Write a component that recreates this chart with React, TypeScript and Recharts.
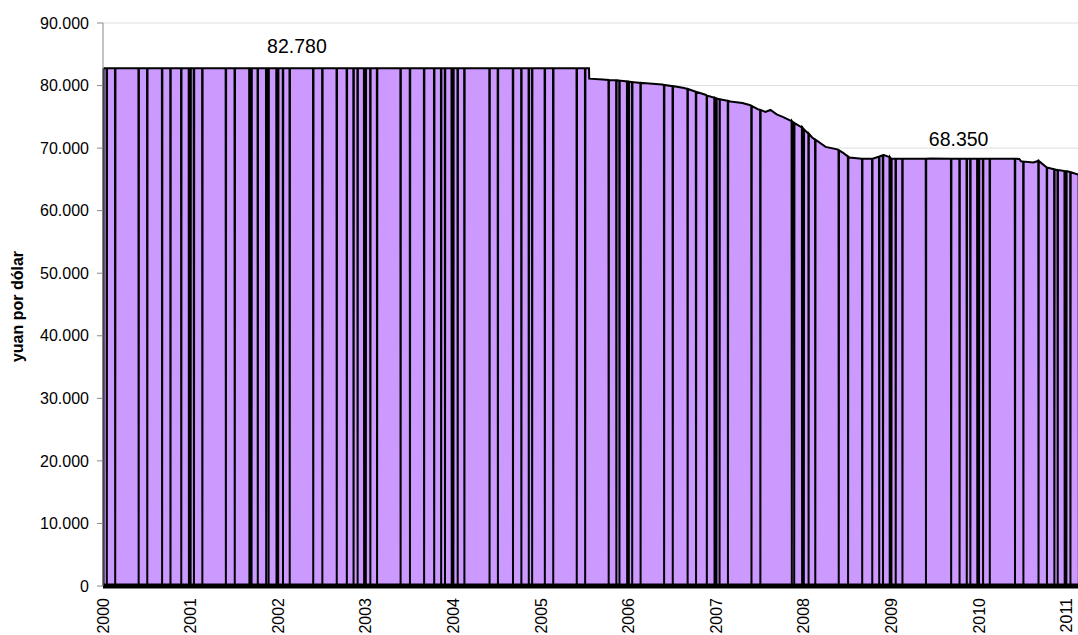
import { AreaChart, Area, XAxis, YAxis, CartesianGrid, ReferenceLine, ReferenceDot } from 'recharts';

// yuan per dollar (x10)
const PEG = 82.78;

const rateDates = [
  '2000-01-03', '2005-07-20', '2005-07-21', '2005-09-15', '2005-11-15', '2006-01-15',
  '2006-03-15', '2006-05-20', '2006-07-15', '2006-08-20', '2006-10-10', '2006-11-20',
  '2007-01-15', '2007-03-01', '2007-04-20', '2007-05-20', '2007-06-25', '2007-07-25',
  '2007-08-15', '2007-09-10', '2007-10-05', '2007-11-15', '2007-12-28', '2008-02-05',
  '2008-04-01', '2008-05-20', '2008-06-15', '2008-07-10', '2008-08-30', '2008-10-15',
  '2008-12-01', '2009-01-10', '2009-06-15', '2010-06-18', '2010-06-25', '2010-08-15',
  '2010-09-05', '2010-10-10', '2010-11-20', '2011-01-05', '2011-02-25',
];
const rateValues = [
  PEG, PEG, 81.1, 80.95, 80.85, 80.55,
  80.35, 80.15, 79.85, 79.6, 79.0, 78.5,
  77.8, 77.45, 77.2, 76.9, 76.2, 75.8,
  76.1, 75.4, 75.0, 74.2, 73.2, 71.7,
  70.2, 69.8, 69.2, 68.5, 68.3, 68.3,
  68.9, 68.3, 68.33, 68.27, 67.9, 67.7,
  67.95, 66.9, 66.5, 66.3, 65.7,
];

// days without a quote (drawn as 0) and the rate level around them
const holidayDates = [
  '2000-01-17', '2000-02-21', '2000-05-29', '2000-07-04', '2000-09-04', '2000-10-09', '2000-11-23', '2000-12-25',
  '2001-01-01', '2001-01-15', '2001-02-19', '2001-05-28', '2001-07-04', '2001-09-03', '2001-09-11', '2001-09-12',
  '2001-10-08', '2001-11-12', '2001-11-22', '2001-12-25',
  '2002-01-01', '2002-01-21', '2002-02-18', '2002-05-27', '2002-07-04', '2002-09-02', '2002-10-14', '2002-11-11',
  '2002-11-28', '2002-12-25',
  '2003-01-01', '2003-01-20', '2003-02-17', '2003-05-26', '2003-07-04', '2003-09-01', '2003-10-13', '2003-11-11',
  '2003-11-27', '2003-12-25',
  '2004-01-01', '2004-01-19', '2004-02-16', '2004-05-31', '2004-07-05', '2004-09-06', '2004-10-11', '2004-11-11',
  '2004-11-25',
  '2005-01-17', '2005-02-21', '2005-05-30', '2005-07-04',
  '2005-10-10', '2005-11-11', '2005-11-24', '2005-12-26',
  '2006-01-02', '2006-01-16', '2006-02-20', '2006-05-29', '2006-07-04', '2006-09-04', '2006-10-09', '2006-11-23',
  '2006-12-25',
  '2007-01-01', '2007-01-02', '2007-01-15', '2007-02-19', '2007-05-28', '2007-07-04', '2007-11-12', '2007-11-22',
  '2007-12-25',
  '2008-01-01', '2008-01-21', '2008-02-18', '2008-05-26', '2008-07-04', '2008-09-01', '2008-10-13', '2008-11-11',
  '2008-11-27', '2008-12-25',
  '2009-01-01', '2009-01-19', '2009-02-16', '2009-05-25', '2009-09-07', '2009-10-12', '2009-11-11', '2009-11-26',
  '2009-12-25',
  '2010-01-01', '2010-01-18', '2010-02-15', '2010-05-31', '2010-07-05', '2010-09-06', '2010-10-11', '2010-11-11',
  '2010-11-25', '2010-12-24', '2010-12-31',
  '2011-01-17', '2011-02-21',
];
const holidayLevels = [
  PEG, PEG, PEG, PEG, PEG, PEG, PEG, PEG,
  PEG, PEG, PEG, PEG, PEG, PEG, PEG, PEG,
  PEG, PEG, PEG, PEG,
  PEG, PEG, PEG, PEG, PEG, PEG, PEG, PEG,
  PEG, PEG,
  PEG, PEG, PEG, PEG, PEG, PEG, PEG, PEG,
  PEG, PEG,
  PEG, PEG, PEG, PEG, PEG, PEG, PEG, PEG,
  PEG,
  PEG, PEG, PEG, PEG,
  80.9, 80.85, 80.8, 80.65,
  80.62, 80.55, 80.42, 80.1, 79.9, 79.45, 79.0, 78.4,
  78.05,
  77.95, 77.95, 77.8, 77.55, 76.75, 76.1, 74.3, 74.0,
  73.3,
  73.0, 72.3, 71.35, 69.65, 68.65, 68.3, 68.3, 68.65,
  68.85, 68.55,
  68.3, 68.3, 68.3, 68.3, 68.3, 68.3, 68.3, 68.3,
  68.3,
  68.3, 68.3, 68.3, 68.3, 67.85, 67.95, 66.9, 66.6,
  66.5, 66.33, 66.3,
  66.15, 65.75,
];

const yearTicks = [2000, 2001, 2002, 2003, 2004, 2005, 2006, 2007, 2008, 2009, 2010, 2011];
const valueTicks = [0, 10, 20, 30, 40, 50, 60, 70, 80, 90];

const notes = [
  { date: '2002-03-20', value: PEG, text: '82.780', gap: 15 },
  { date: '2009-10-08', value: 68.35, text: '68.350', gap: 12 },
];

const FONT = '"Liberation Sans", Arial, sans-serif';
const DAY = 1 / 365;

function toYear(d: string) {
  const [y, m, day] = d.split('-').map(Number);
  const start = Date.UTC(y, 0, 1);
  const end = Date.UTC(y + 1, 0, 1);
  return y + (Date.UTC(y, m - 1, day) - start) / (end - start);
}

const points: { t: number; v: number }[] = [];
rateDates.forEach((d, i) => points.push({ t: toYear(d), v: rateValues[i] }));
holidayDates.forEach((d, i) => {
  const t = toYear(d);
  points.push({ t: t - DAY, v: holidayLevels[i] }, { t, v: 0 }, { t: t + DAY, v: holidayLevels[i] });
});
points.sort((a, b) => a.t - b.t);

const firstT = points[0].t;
const firstV = points[0].v;

const YearTick = (props: any) => {
  const { x, y, payload } = props;
  return (
    <text x={x} y={y} transform={`rotate(-90, ${x}, ${y})`} textAnchor="end" dy="0.35em"
      fontSize={16} fontFamily={FONT} fill="#000">
      {payload.value}
    </text>
  );
};

const YLabel = (props: any) => {
  const vb = props.viewBox;
  const cx = vb.x + 17;
  const cy = vb.y + vb.height / 2 + 2;
  return (
    <text x={cx} y={cy} transform={`rotate(-90, ${cx}, ${cy})`} textAnchor="middle" dy="0.35em"
      fontSize={16} fontWeight="bold" fontFamily={FONT} fill="#000">
      yuan por dólar
    </text>
  );
};

export default function App() {
  return (
    <div style={{ position: 'absolute', left: 0, top: 0, background: '#fff' }}>
      <AreaChart width={1078} height={635} data={points} margin={{ top: 23, right: 0, left: 0, bottom: 0 }}>
        <CartesianGrid vertical={false} stroke="#dedede" />
        <XAxis
          dataKey="t"
          type="number"
          domain={[2000, 2011.13]}
          allowDataOverflow
          ticks={yearTicks}
          tick={<YearTick />}
          tickLine={false}
          tickSize={0}
          tickMargin={12}
          axisLine={{ stroke: '#000', strokeWidth: 5 }}
          height={49}
          interval={0}
        />
        <YAxis
          type="number"
          domain={[0, 90]}
          ticks={valueTicks}
          interval={0}
          width={103}
          tickSize={6}
          tickMargin={8}
          tickFormatter={(v: number) => (v === 0 ? '0' : v.toFixed(3))}
          tick={{ fontSize: 16, fontFamily: FONT, fill: '#000' }}
          axisLine={{ stroke: '#888' }}
          tickLine={{ stroke: '#888' }}
          label={<YLabel />}
        />
        <Area
          type="linear"
          dataKey="v"
          stroke="#000"
          strokeWidth={2}
          fill="#CC99FF"
          fillOpacity={1}
          dot={false}
          activeDot={false}
          isAnimationActive={false}
        />
        <ReferenceLine
          segment={[{ x: firstT, y: 0 }, { x: firstT, y: firstV }]}
          stroke="#000"
          strokeWidth={2}
        />
        {notes.map((n) => (
          <ReferenceDot
            key={n.text}
            x={toYear(n.date)}
            y={n.value}
            r={0}
            fill="none"
            stroke="none"
            label={{ value: n.text, position: 'top', offset: n.gap, fontSize: 19.5, fontFamily: FONT, fill: '#000' }}
          />
        ))}
      </AreaChart>
    </div>
  );
}
